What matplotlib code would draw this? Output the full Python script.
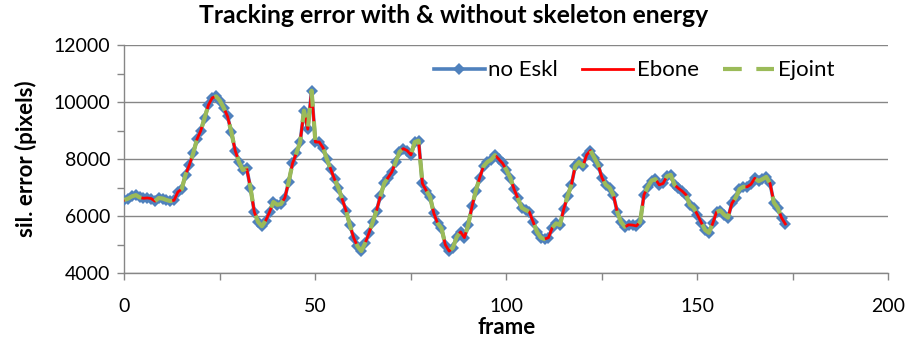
import matplotlib
matplotlib.use("Agg")
import matplotlib.pyplot as plt
from matplotlib.ticker import MultipleLocator

# Silhouette tracking error per frame (pixels)
frames = list(range(0, 174))
error_no_eskl = [
    6570, 6620, 6700, 6740, 6660, 6630, 6640, 6620, 6530, 6640,
    6620, 6570, 6530, 6560, 6850, 6950, 7450, 7800, 8200, 8700,
    9000, 9450, 9900, 10150, 10200, 10050, 9800, 9500, 8950, 8300,
    7900, 7620, 7680, 7000, 6150, 5800, 5650, 5850, 6150, 6500,
    6400, 6430, 6650, 7200, 7850, 8200, 8600, 9700, 9050, 10400,
    8600, 8600, 8400, 8000, 7650, 7300, 7000, 6600, 6200, 5700,
    5250, 4950, 4780, 5050, 5400, 5800, 6200, 6700, 7150, 7350,
    7550, 7900, 8250, 8370, 8300, 8150, 8600, 8650, 7150, 6900,
    6680, 6100, 5750, 5580, 5000, 4780, 4900, 5280, 5450, 5250,
    5700, 6350, 6900, 7350, 7750, 7900, 7980, 8140, 8000, 7850,
    7620, 7350, 6950, 6630, 6300, 6220, 6150, 5800, 5450, 5250,
    5200, 5250, 5600, 5750, 5690, 6250, 6700, 7100, 7750, 7900,
    7750, 8150, 8300, 8050, 7800, 7350, 7100, 7000, 6740, 6150,
    5800, 5630, 5700, 5690, 5660, 5800, 6750, 7030, 7250, 7300,
    7100, 7150, 7400, 7450, 7100, 6980, 6880, 6750, 6400, 6300,
    6050, 5780, 5520, 5420, 5750, 6150, 6200, 6050, 5950, 6450,
    6650, 6950, 7030, 7030, 7120, 7330, 7230, 7300, 7380, 7150,
    6480, 6300, 5950, 5730,
]
error_ebone = list(error_no_eskl)
error_ejoint = list(error_no_eskl)

series_labels = ["no Eskl", "Ebone", "Ejoint"]
title_text = "Tracking error with & without skeleton energy"
x_label = "frame"
y_label = "sil. error (pixels)"

FONT = ["Lato", "DejaVu Sans"]
plt.rcParams["font.family"] = FONT

fig = plt.figure(figsize=(9.08, 3.41), dpi=100)
ax = fig.add_axes([0.137, 0.1985, 0.8415, 0.6695])

ax.plot(frames, error_no_eskl, color="#4F81BD", lw=2.6, marker="D",
        markersize=6, markeredgewidth=0, label=series_labels[0], zorder=3)
ax.plot(frames, error_ebone, color="#FF0000", lw=2.0,
        label=series_labels[1], zorder=4)
ax.plot(frames, error_ejoint, color="#9BBB59", lw=3.0, ls=(0, (4.5, 3.5)),
        label=series_labels[2], zorder=5)

ax.set_xlim(0, 200)
ax.set_ylim(4000, 12000)
ax.xaxis.set_major_locator(MultipleLocator(50))
ax.xaxis.set_minor_locator(MultipleLocator(25))
ax.yaxis.set_major_locator(MultipleLocator(2000))
ax.yaxis.set_minor_locator(MultipleLocator(1000))

ax.grid(axis="y", which="major", color="#868686", lw=1.0)
ax.set_axisbelow(True)
for side in ("top", "right"):
    ax.spines[side].set_visible(False)
for side in ("left", "bottom"):
    ax.spines[side].set_color("#868686")
    ax.spines[side].set_linewidth(1.0)

ax.tick_params(axis="both", which="both", direction="out", color="#868686",
               length=5, width=1.0, labelsize=14, labelcolor="black")
ax.tick_params(axis="x", pad=13)
ax.tick_params(axis="y", pad=5)

# Title centred over the whole figure
fig.text(0.5, 0.955, title_text, ha="center", va="center",
         fontsize=17.8, fontweight="bold")
ax.set_xlabel(x_label, fontsize=16, fontweight="bold", labelpad=1)
ax.set_ylabel(y_label, fontsize=16, fontweight="bold", labelpad=12)

ax.legend(loc="upper right", bbox_to_anchor=(0.955, 1.02), ncol=3,
          frameon=False, fontsize=16, handlelength=2.3,
          columnspacing=1.1, handletextpad=0.15)

fig.savefig("out.png", dpi=100)
